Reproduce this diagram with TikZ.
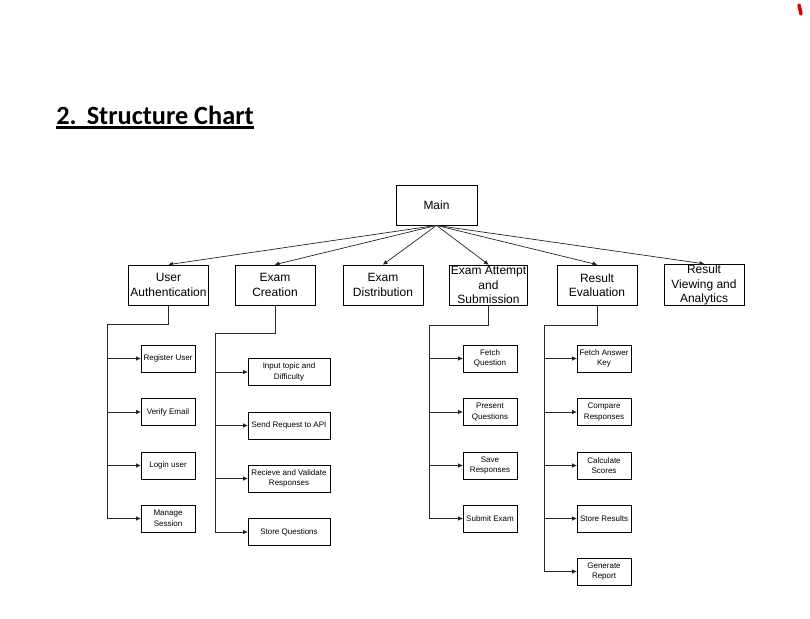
\documentclass[tikz,border=0pt]{standalone}
\usepackage{fontspec}
\setmainfont{Liberation Sans}
\newfontfamily\titlefont{Carlito}
\usetikzlibrary{arrows.meta}
\begin{document}
\begin{tikzpicture}[x=1pt,y=-1pt,
  line width=0.8pt,
  topbox/.style={draw, line width=0.8pt, minimum width=80pt, minimum height=40pt, inner sep=1pt, align=center, font=\fontsize{12}{14.2}\selectfont},
  subbox/.style={draw, line width=0.8pt, minimum width=54pt, minimum height=27pt, inner sep=1pt, align=center, font=\fontsize{8}{10.5}\selectfont},
  widebox/.style={subbox, minimum width=82pt},
  conn/.style={draw, line width=0.7pt, black!85},
  arr/.style={conn, -{Triangle[length=4.5pt,width=4pt]}}
]
\useasboundingbox (0,0) rectangle (810,618);
\fill[white] (0,0) rectangle (810,618);

% red mark
\draw[red!85!black, line width=3.5pt, line cap=round] (799,5) -- (801,14);

% title
\node[anchor=base west, inner sep=0pt, font=\titlefont\bfseries\fontsize{26.3}{31}\selectfont] (title) at (56,124) {2.\hspace{10pt}Structure Chart};
\draw[line width=2.2pt] (title.south west) ++(0,3) coordinate (ul1) -- (ul1 -| title.south east);

% main
\node[topbox, minimum width=81pt] (main) at (436.5,205) {Main};

% level 1
\node[topbox] (ua) at (168.5,285) {User\\Authentication};
\node[topbox] (ec) at (275,285) {Exam\\Creation};
\node[topbox] (ed) at (383,285) {Exam\\Distribution};
\node[topbox, minimum width=77pt] (ea) at (488.5,285) {Exam Attempt\\and\\Submission};
\node[topbox] (re) at (597,285) {Result\\Evaluation};
\node[topbox] (rv) at (704,285) {Result\\Viewing and\\Analytics};

\foreach \n in {ua,ec,ed,ea,re,rv}
  \draw[arr] (main.south) -- (\n.north);

% User Authentication children
\node[subbox] (ua1) at (168,358.5) {Register User};
\node[subbox] (ua2) at (168,412) {Verify Email};
\node[subbox] (ua3) at (168,465.5) {Login user};
\node[subbox] (ua4) at (168,518.5) {Manage\\Session};
\coordinate (uaT) at (107,324);
\draw[conn] (ua.south) |- (uaT);
\foreach \n in {ua1,ua2,ua3,ua4}
  \draw[arr] (uaT) |- (\n.west);

% Exam Creation children
\node[widebox] (ec1) at (289,372) {Input topic and\\Difficulty};
\node[widebox] (ec2) at (289,425.5) {Send Request to API};
\node[widebox] (ec3) at (289,478.5) {Recieve and Validate\\Responses};
\node[widebox] (ec4) at (289,532) {Store Questions};
\coordinate (ecT) at (215,333);
\draw[conn] (ec.south) |- (ecT);
\foreach \n in {ec1,ec2,ec3,ec4}
  \draw[arr] (ecT) |- (\n.west);

% Exam Attempt children
\node[subbox] (ea1) at (490,358.5) {Fetch\\Question};
\node[subbox] (ea2) at (490,412) {Present\\Questions};
\node[subbox] (ea3) at (490,465.5) {Save\\Responses};
\node[subbox] (ea4) at (490,518.5) {Submit Exam};
\coordinate (eaT) at (429,325);
\draw[conn] (ea.south) |- (eaT);
\foreach \n in {ea1,ea2,ea3,ea4}
  \draw[arr] (eaT) |- (\n.west);

% Result Evaluation children
\node[subbox] (re1) at (604,358.5) {Fetch Answer\\Key};
\node[subbox] (re2) at (604,412) {Compare\\Responses};
\node[subbox] (re3) at (604,465.5) {Calculate\\Scores};
\node[subbox] (re4) at (604,518.5) {Store Results};
\node[subbox] (re5) at (604,571.5) {Generate\\Report};
\coordinate (reT) at (544,325);
\draw[conn] (re.south) |- (reT);
\foreach \n in {re1,re2,re3,re4,re5}
  \draw[arr] (reT) |- (\n.west);
\end{tikzpicture}
\end{document}
